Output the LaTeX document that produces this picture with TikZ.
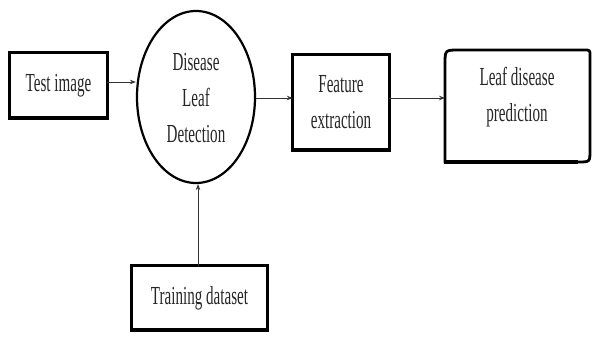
\documentclass[tikz,border=0pt]{standalone}
\usepackage{fontspec}
\setmainfont{Liberation Serif}[FakeStretch=0.58]
\usetikzlibrary{arrows.meta,shapes.geometric}
\begin{document}
\begin{tikzpicture}[x=1pt,y=-1pt,
  lbl/.style={font=\fontsize{26}{36}\selectfont, align=center, inner sep=0pt, text=black!85},
  boxline/.style={line width=2.8pt},
  thickbottom/.style={line width=4.5pt},
  conn/.style={line width=0.9pt, -{Stealth[length=6pt,width=4.5pt]}, black!80}]
\useasboundingbox (0,0) rectangle (592,337);
% Test image
\node[lbl, minimum width=97pt, minimum height=65pt] (test) at (58.5,85.5) {Test image};
\draw[boxline] (test.north west) rectangle (test.south east);
\draw[thickbottom] ([xshift=-1pt]test.south west) -- ([xshift=1pt]test.south east);
% Ellipse
\node[ellipse, draw, line width=2.2pt, minimum width=118pt, minimum height=172pt, inner sep=0pt] (det) at (196,97) {};
\node[lbl] (dettext) at (196,98) {Disease\\Leaf\\Detection};
% Feature extraction
\node[lbl, minimum width=96pt, minimum height=95pt] (feat) at (341,102.5) {Feature\\extraction};
\draw[boxline] (feat.north west) rectangle (feat.south east);
\draw[thickbottom] ([xshift=-1pt]feat.south west) -- ([xshift=1pt]feat.south east);
% Leaf disease prediction
\node[lbl, minimum width=145pt, minimum height=112pt] (pred) at (517.5,106) {};
\node[lbl] (predtext) at (517,97) {Leaf disease\\prediction};
\coordinate (pSW) at (445,162);
\coordinate (pNW) at (445,50);
\coordinate (pNE) at (590,50);
\coordinate (pSE) at (590,162);
\draw[boxline, line join=miter] (pSW) -- ([yshift=-14pt]pNW) .. controls (pNW) .. ([xshift=14pt]pNW)
  -- ([xshift=-6pt]pNE) .. controls (pNE) .. ([yshift=-6pt]pNE)
  -- ([yshift=12pt]pSE) .. controls (pSE) .. ([xshift=-12pt]pSE) -- cycle;
\draw[thickbottom] ([xshift=-1pt]pSW) -- ([xshift=-12pt]pSE);
% Training dataset
\node[lbl, minimum width=135pt, minimum height=64pt] (train) at (199.5,298) {Training dataset};
\draw[boxline] (train.north west) rectangle (train.south east);
\draw[thickbottom] ([xshift=-1pt]train.south west) -- ([xshift=1pt]train.south east);
% Connectors
\draw[conn] (test.east |- 0,82) -- (det.west |- 0,82);
\draw[conn] (det.east |- 0,98) -- (feat.west |- 0,98);
\draw[conn] (feat.east |- 0,98) -- (pSW |- 0,98);
\draw[conn] (train.north -| 198,0) -- (det.south -| 198,0);
\end{tikzpicture}
\end{document}
